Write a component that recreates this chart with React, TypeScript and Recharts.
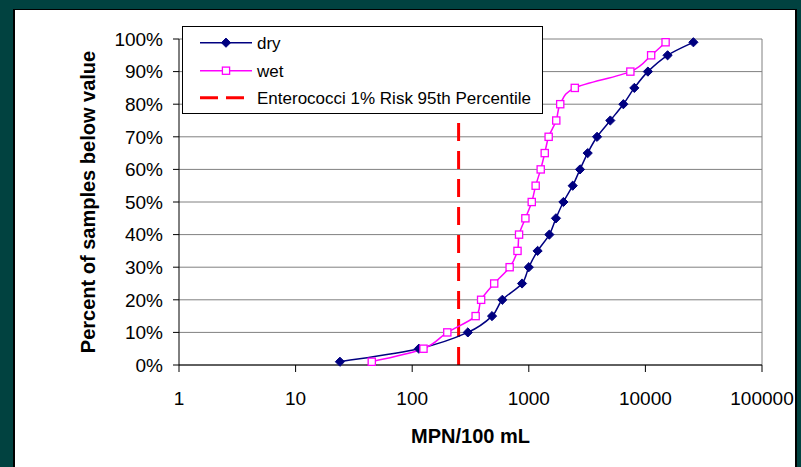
import React from 'react';
import {
  ComposedChart,
  Line,
  XAxis,
  YAxis,
  CartesianGrid,
  ReferenceLine,
  Legend,
} from 'recharts';

// Cumulative percentiles at which each sample set is plotted
const percentiles = [1, 5, 10, 15, 20, 25, 30, 35, 40, 45, 50, 55, 60, 65, 70, 75, 80, 85, 90, 95, 99];

// Enterococci concentrations (MPN/100 mL) at each percentile
const dryMpn = [24, 114, 300, 484, 593, 875, 1000, 1190, 1500, 1710, 1980, 2380, 2750, 3200, 3850, 5000, 6470, 8040, 10500, 15500, 25800];
const wetMpn = [45, 125, 200, 350, 390, 505, 685, 800, 825, 935, 1060, 1145, 1265, 1370, 1480, 1720, 1860, 2480, 7430, 11200, 14900];

// 1% risk, 95th percentile threshold
const riskThreshold = 250;

const xTicks = [1, 10, 100, 1000, 10000, 100000];
const yTicks = [0, 10, 20, 30, 40, 50, 60, 70, 80, 90, 100];

const seriesNames = { dry: 'dry', wet: 'wet', risk: 'Enterococci 1% Risk 95th Percentile' };

const dryData = percentiles.map((p, i) => ({ mpn: dryMpn[i], pct: p }));
const wetData = percentiles.map((p, i) => ({ mpn: wetMpn[i], pct: p }));

const NAVY = '#000080';
const MAGENTA = '#FF00FF';
const RED = '#FF0000';
const GRID = '#808080';
const FONT = '"Liberation Sans", Arial, sans-serif';

// Smoothed line through every point (uniform Catmull-Rom as cubic Béziers)
const smoothCurve = (context: any) => {
  let pts: number[][] = [];
  return {
    areaStart() {},
    areaEnd() {},
    lineStart() {
      pts = [];
    },
    point(x: number, y: number) {
      pts.push([+x, +y]);
    },
    lineEnd() {
      if (!pts.length) return;
      context.moveTo(pts[0][0], pts[0][1]);
      for (let i = 0; i < pts.length - 1; i++) {
        const p0 = pts[i - 1] || pts[i];
        const p1 = pts[i];
        const p2 = pts[i + 1];
        const p3 = pts[i + 2] || p2;
        context.bezierCurveTo(
          p1[0] + (p2[0] - p0[0]) / 6,
          p1[1] + (p2[1] - p0[1]) / 6,
          p2[0] - (p3[0] - p1[0]) / 6,
          p2[1] - (p3[1] - p1[1]) / 6,
          p2[0],
          p2[1],
        );
      }
    },
  };
};

const Diamond = (props: any) => {
  const { cx, cy } = props;
  if (cx == null || cy == null) return null;
  const r = 4.6;
  return (
    <polygon
      key={`d-${cx}-${cy}`}
      points={`${cx},${cy - r} ${cx + r},${cy} ${cx},${cy + r} ${cx - r},${cy}`}
      fill={NAVY}
      stroke={NAVY}
      strokeWidth={1}
    />
  );
};

const OpenSquare = (props: any) => {
  const { cx, cy } = props;
  if (cx == null || cy == null) return null;
  const h = 3.6;
  return (
    <rect
      key={`s-${cx}-${cy}`}
      x={cx - h}
      y={cy - h}
      width={h * 2}
      height={h * 2}
      fill="#fff"
      stroke={MAGENTA}
      strokeWidth={1.3}
    />
  );
};

const LegendBox = () => {
  const rows = [16.7, 44.7, 71.7];
  return (
    <svg width={361} height={88} style={{ display: 'block' }}>
      <rect x={0.5} y={0.5} width={360} height={87} fill="#fff" stroke="#000" strokeWidth={1} />
      <line x1={18} x2={70} y1={rows[0]} y2={rows[0]} stroke={NAVY} strokeWidth={1.5} />
      <Diamond cx={44} cy={rows[0]} />
      <text x={75} y={rows[0] + 6} fontFamily={FONT} fontSize={17} fill="#000">{seriesNames.dry}</text>
      <line x1={18} x2={70} y1={rows[1]} y2={rows[1]} stroke={MAGENTA} strokeWidth={1.5} />
      <OpenSquare cx={44} cy={rows[1]} />
      <text x={75} y={rows[1] + 6} fontFamily={FONT} fontSize={17} fill="#000">{seriesNames.wet}</text>
      <line x1={18} x2={70} y1={rows[2]} y2={rows[2]} stroke={RED} strokeWidth={3} strokeDasharray="18 8" />
      <text x={75} y={rows[2] + 6} fontFamily={FONT} fontSize={17} fill="#000">{seriesNames.risk}</text>
    </svg>
  );
};

export default function App() {
  return (
    <div style={{ position: 'absolute', left: 0, top: 0, width: 801, height: 467, background: '#014240', overflow: 'hidden' }}>
      <div
        style={{
          position: 'absolute',
          left: 13,
          top: 9,
          width: 784,
          height: 470,
          background: '#fff',
          borderLeft: '2px solid #000',
          borderTop: '1px solid #000',
          borderRight: '2px solid #000',
          boxSizing: 'border-box',
        }}
      />
      <div style={{ position: 'absolute', left: 0, top: 0 }}>
        <ComposedChart
          width={801}
          height={467}
          margin={{ top: 39, right: 39, bottom: 7, left: 0 }}
          style={{ fontFamily: FONT }}
        >
          <CartesianGrid vertical={false} stroke={GRID} strokeWidth={1} />
          <XAxis
            dataKey="mpn"
            type="number"
            scale="log"
            domain={[1, 100000]}
            ticks={xTicks}
            allowDataOverflow
            height={95}
            stroke="#000"
            tickSize={7}
            tickMargin={20}
            tick={{ fill: '#000', fontSize: 19, fontFamily: FONT }}
            tickFormatter={(v: number) => String(v)}
            label={{
              value: 'MPN/100 mL',
              position: 'insideBottom',
              offset: 17,
              fill: '#000',
              fontSize: 20,
              fontWeight: 'bold',
              fontFamily: FONT,
            }}
          />
          <YAxis
            dataKey="pct"
            type="number"
            domain={[0, 100]}
            ticks={yTicks}
            width={179}
            stroke="#000"
            tickSize={6}
            tickMargin={10}
            tick={{ fill: '#000', fontSize: 19, fontFamily: FONT }}
            tickFormatter={(v: number) => `${v}%`}
            label={{
              value: 'Percent of samples below value',
              angle: -90,
              position: 'center',
              dx: -2,
              fill: '#000',
              fontSize: 20,
              fontWeight: 'bold',
              fontFamily: FONT,
            }}
          />
          <ReferenceLine x={100000} stroke={GRID} strokeWidth={1} />
          <ReferenceLine x={riskThreshold} stroke={RED} strokeWidth={3} strokeDasharray="18 10" />
          <Line
            data={dryData}
            dataKey="pct"
            name={seriesNames.dry}
            type={smoothCurve as any}
            stroke={NAVY}
            strokeWidth={1.5}
            dot={<Diamond />}
            activeDot={false}
            isAnimationActive={false}
          />
          <Line
            data={wetData}
            dataKey="pct"
            name={seriesNames.wet}
            type={smoothCurve as any}
            stroke={MAGENTA}
            strokeWidth={1.5}
            dot={<OpenSquare />}
            activeDot={false}
            isAnimationActive={false}
          />
          <Legend
            content={<LegendBox />}
            layout="horizontal"
            verticalAlign="middle"
            align="center"
            wrapperStyle={{ left: 182, top: 26, width: 361, height: 88 }}
          />
        </ComposedChart>
      </div>
    </div>
  );
}
